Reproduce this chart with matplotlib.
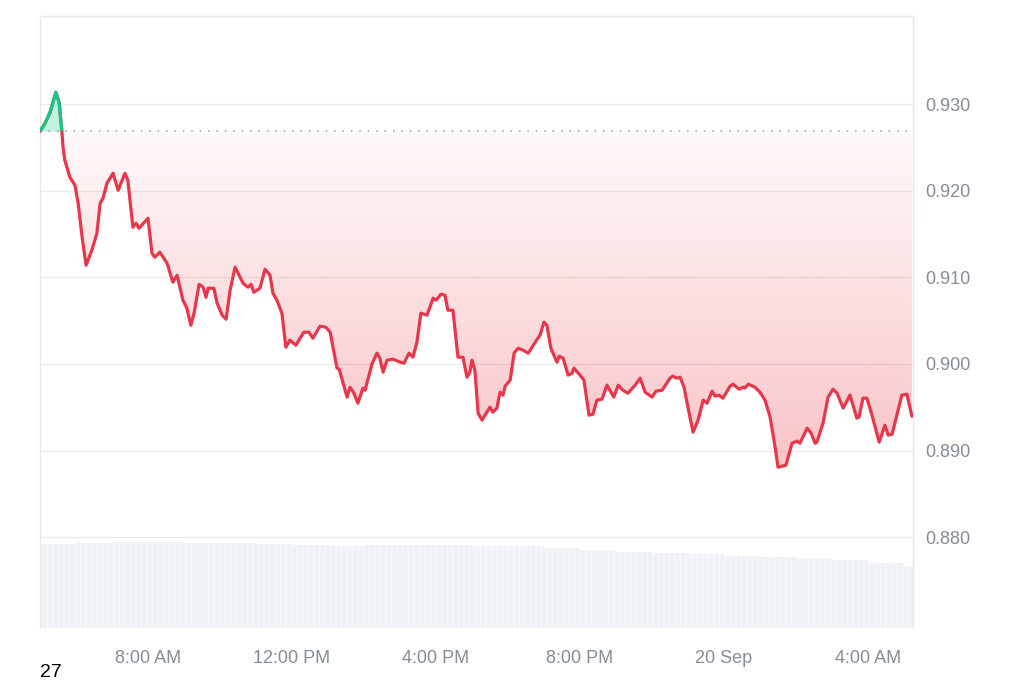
import numpy as np
import matplotlib.pyplot as plt
from matplotlib.patches import Rectangle

plt.rcParams['font.family'] = ['Liberation Sans', 'DejaVu Sans']
plt.rcParams['hatch.linewidth'] = 0.8

# hours after 5:00 AM, 19 Sep
hours = [0.00, 0.14, 0.28, 0.44, 0.53, 0.61, 0.64, 0.69, 0.83, 0.97,
         1.06, 1.17, 1.28, 1.44, 1.58, 1.67, 1.75, 1.86, 2.03, 2.17,
         2.36, 2.44, 2.58, 2.67, 2.75, 3.00, 3.11, 3.19, 3.33, 3.53,
         3.69, 3.81, 3.86, 3.97, 4.08, 4.19, 4.28, 4.42, 4.53, 4.61,
         4.67, 4.83, 4.92, 5.06, 5.17, 5.28, 5.42, 5.53, 5.64, 5.78,
         5.86, 5.94, 6.11, 6.25, 6.39, 6.47, 6.58, 6.72, 6.83, 6.94,
         7.11, 7.19, 7.33, 7.47, 7.58, 7.78, 7.94, 8.06, 8.25, 8.31,
         8.53, 8.61, 8.72, 8.83, 8.97, 9.03, 9.22, 9.36, 9.44, 9.53,
         9.64, 9.81, 10.00, 10.11, 10.25, 10.36, 10.47, 10.58, 10.75, 10.92,
         11.00, 11.14, 11.25, 11.33, 11.47, 11.61, 11.75, 11.86, 11.94, 12.00,
         12.08, 12.17, 12.28, 12.36, 12.50, 12.58, 12.69, 12.78, 12.86, 12.92,
         13.06, 13.17, 13.28, 13.42, 13.56, 13.67, 13.81, 13.89, 14.00, 14.08,
         14.19, 14.25, 14.36, 14.42, 14.53, 14.67, 14.78, 14.83, 15.00, 15.11,
         15.25, 15.36, 15.47, 15.61, 15.75, 15.94, 16.06, 16.19, 16.33, 16.53,
         16.67, 16.81, 17.00, 17.11, 17.28, 17.50, 17.58, 17.69, 17.78, 17.89,
         17.97, 18.14, 18.28, 18.42, 18.53, 18.67, 18.75, 18.86, 18.97, 19.17,
         19.25, 19.42, 19.53, 19.58, 19.67, 19.86, 20.00, 20.14, 20.28, 20.42,
         20.50, 20.72, 20.89, 21.03, 21.11, 21.31, 21.42, 21.53, 21.58, 21.75,
         21.89, 22.03, 22.14, 22.31, 22.50, 22.69, 22.75, 22.86, 22.97, 23.11,
         23.31, 23.47, 23.56, 23.67, 23.94, 24.08, 24.22]

price = [0.92688, 0.92781, 0.92908, 0.93139, 0.93023, 0.92677, 0.92503, 0.92353, 0.92157, 0.92065,
         0.91857, 0.91464, 0.91141, 0.91314, 0.91510, 0.91857, 0.91915, 0.92088, 0.92203, 0.92007,
         0.92203, 0.92122, 0.91580, 0.91626, 0.91568, 0.91684, 0.91279, 0.91233, 0.91291, 0.91164,
         0.90945, 0.91025, 0.90933, 0.90737, 0.90644, 0.90448, 0.90587, 0.90921, 0.90887, 0.90771,
         0.90875, 0.90875, 0.90702, 0.90564, 0.90517, 0.90852, 0.91118, 0.91025, 0.90933, 0.90887,
         0.90921, 0.90829, 0.90875, 0.91095, 0.91025, 0.90818, 0.90737, 0.90587, 0.90194, 0.90275,
         0.90217, 0.90275, 0.90367, 0.90367, 0.90298, 0.90437, 0.90425, 0.90367, 0.89952, 0.89940,
         0.89617, 0.89732, 0.89663, 0.89547, 0.89721, 0.89697, 0.89998, 0.90125, 0.90067, 0.89905,
         0.90044, 0.90056, 0.90021, 0.90009, 0.90125, 0.90079, 0.90252, 0.90587, 0.90564, 0.90760,
         0.90737, 0.90806, 0.90794, 0.90621, 0.90621, 0.90079, 0.90079, 0.89848, 0.89905, 0.90044,
         0.89928, 0.89432, 0.89351, 0.89409, 0.89501, 0.89443, 0.89490, 0.89674, 0.89640, 0.89744,
         0.89813, 0.90125, 0.90182, 0.90159, 0.90125, 0.90194, 0.90286, 0.90333, 0.90483, 0.90448,
         0.90182, 0.90125, 0.90021, 0.90090, 0.90067, 0.89871, 0.89894, 0.89952, 0.89871, 0.89813,
         0.89409, 0.89420, 0.89582, 0.89594, 0.89755, 0.89617, 0.89755, 0.89697, 0.89663, 0.89755,
         0.89836, 0.89674, 0.89617, 0.89686, 0.89697, 0.89836, 0.89859, 0.89836, 0.89848, 0.89732,
         0.89559, 0.89212, 0.89351, 0.89582, 0.89547, 0.89686, 0.89628, 0.89640, 0.89605, 0.89744,
         0.89767, 0.89709, 0.89732, 0.89721, 0.89767, 0.89732, 0.89674, 0.89582, 0.89386, 0.89039,
         0.88808, 0.88831, 0.89085, 0.89109, 0.89085, 0.89259, 0.89201, 0.89085, 0.89097, 0.89316,
         0.89617, 0.89709, 0.89663, 0.89490, 0.89640, 0.89374, 0.89386, 0.89605, 0.89605, 0.89409,
         0.89097, 0.89293, 0.89178, 0.89189, 0.89640, 0.89651, 0.89397]

vol_hours = list(range(25))
volume = [84.5, 85.5, 86, 86, 85.5, 85, 84.5, 83, 82, 83, 83, 83, 82.5,
          82, 80, 78, 76.5, 75, 74, 72.5, 71, 70, 68, 65, 62.5]

tick_hours = [3, 7, 11, 15, 19, 23]
tick_labels = ['8:00 AM', '12:00 PM', '4:00 PM', '8:00 PM', '20 Sep', '4:00 AM']
price_ticks = [0.880, 0.890, 0.900, 0.910, 0.920, 0.930]
open_price = 0.92688

red = '#e8374a'
green = '#16c784'
txt = '#858c98'

fig = plt.figure(figsize=(10.24, 6.83), dpi=100)
axv = fig.add_axes([40/1024, 1 - 628/683, 873/1024, 612/683])
ax = axv.twinx()

# volume
axv.bar(vol_hours, volume, width=1, align='edge', color='#eef1f5',
        edgecolor='#f8f9fb', linewidth=0, hatch='|||')
axv.set_ylim(0, max(volume) * 612 / 86)
axv.set_yticks([])
for s in axv.spines.values():
    s.set_visible(False)

t = np.array(hours)
p = np.array(price)
xmax = 24.25

# red area with vertical gradient
red_area = ax.fill_between(t, np.minimum(p, open_price), open_price, color='none')
grad = np.zeros((256, 1, 4))
grad[:, 0, 0] = 234 / 255
grad[:, 0, 1] = 57 / 255
grad[:, 0, 2] = 67 / 255
grad[:, 0, 3] = np.linspace(0.30, 0.03, 256)
im = ax.imshow(grad, extent=[0, xmax, 0.888, open_price], origin='lower',
               aspect='auto', zorder=1)
im.set_clip_path(red_area.get_paths()[0], ax.transData)

# green area
ax.fill_between(t, np.maximum(p, open_price), open_price, color=green, alpha=0.25,
                linewidth=0, zorder=1)

ax.axhline(open_price, color='#9ba1aa', lw=1.1, ls=(0, (1, 4.5)), zorder=2)

ax.plot(t, p, color=red, lw=2.3, solid_joinstyle='round', solid_capstyle='round', zorder=3)
gl, = ax.plot(t, p, color=green, lw=2.3, solid_joinstyle='round', zorder=4)
gl.set_clip_path(Rectangle((0, open_price), 30, 1, transform=ax.transData))

ax.set_xlim(0, xmax)
ax.set_ylim(0.8695, 0.9402)
ax.set_yticks(price_ticks)
ax.set_yticklabels(['%.3f' % v for v in price_ticks])
ax.tick_params(axis='y', length=0, pad=9, labelsize=13, labelcolor=txt)
ax.grid(axis='y', color='#ececec', lw=1)
ax.set_axisbelow(True)

axv.set_xticks(tick_hours)
axv.set_xticklabels(tick_labels)
axv.tick_params(axis='x', length=0, pad=16, labelsize=13, labelcolor=txt)

for name, s in ax.spines.items():
    if name == 'bottom':
        s.set_visible(False)
    else:
        s.set_color('#e8e8e8')
        s.set_linewidth(1)

fig.text(40/1024, 0.003, '27', fontsize=14, color='black',
         ha='left', va='bottom')

fig.savefig('out.png', dpi=100)
